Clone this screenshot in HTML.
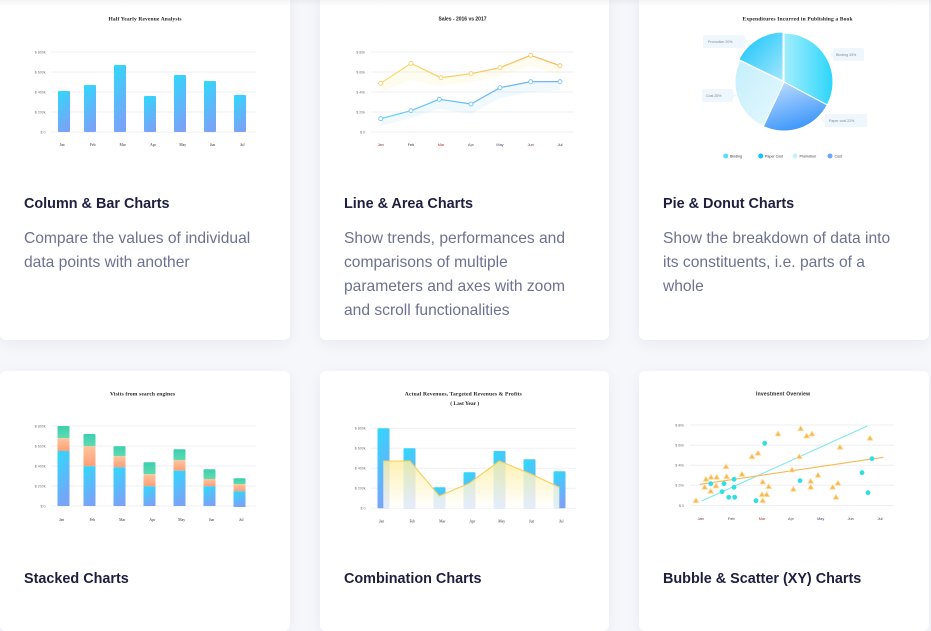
<!DOCTYPE html>
<html><head><meta charset="utf-8">
<style>
html,body{margin:0;padding:0;}
body{width:931px;height:603px;overflow:hidden;background:#f6f7fb;position:relative;font-family:"Liberation Sans",sans-serif;}
.card{position:absolute;background:#fff;border-radius:6px;box-shadow:0 4px 14px rgba(30,40,90,0.06);}
.t{position:absolute;font-weight:bold;font-size:14.4px;line-height:20px;color:#1d1f3e;white-space:nowrap;}
.d{position:absolute;font-size:15.6px;line-height:24px;color:#6c7290;white-space:nowrap;}
svg.main{position:absolute;left:0;top:0;}
.topsh{position:absolute;left:0;top:0;width:931px;height:6px;background:linear-gradient(rgba(0,0,0,0.045),rgba(0,0,0,0));}
</style></head><body>
<div class="card" style="left:0;top:-10px;width:290px;height:350px"></div>
<div class="card" style="left:320px;top:-10px;width:289px;height:350px"></div>
<div class="card" style="left:639px;top:-10px;width:290px;height:350px"></div>
<div class="card" style="left:0;top:371px;width:290px;height:260px"></div>
<div class="card" style="left:320px;top:371px;width:289px;height:260px"></div>
<div class="card" style="left:639px;top:371px;width:290px;height:260px"></div>
<div class="topsh"></div>

<div class="t" style="left:24px;top:194px">Column &amp; Bar Charts</div>
<div class="d" style="left:24px;top:227px">Compare the values of individual<br>data points with another</div>

<div class="t" style="left:344px;top:194px">Line &amp; Area Charts</div>
<div class="d" style="left:344px;top:227px">Show trends, performances and<br>comparisons of multiple<br>parameters and axes with zoom<br>and scroll functionalities</div>

<div class="t" style="left:663px;top:194px">Pie &amp; Donut Charts</div>
<div class="d" style="left:663px;top:227px">Show the breakdown of data into<br>its constituents, i.e. parts of a<br>whole</div>

<div class="t" style="left:24px;top:569px">Stacked Charts</div>
<div class="t" style="left:344px;top:569px">Combination Charts</div>
<div class="t" style="left:663px;top:569px">Bubble &amp; Scatter (XY) Charts</div>

<svg class="main" width="931" height="603" viewBox="0 0 931 603" xmlns="http://www.w3.org/2000/svg">
<defs>
<linearGradient id="gBar" x1="0" y1="0" x2="0.3" y2="1"><stop offset="0" stop-color="#2fd9fb"/><stop offset="1" stop-color="#78a4f8"/></linearGradient>
<linearGradient id="gGreen" x1="0" y1="0" x2="0" y2="1"><stop offset="0" stop-color="#3acfae"/><stop offset="1" stop-color="#62dab0"/></linearGradient>
<linearGradient id="gOrange" x1="0" y1="0" x2="0" y2="1"><stop offset="0" stop-color="#ffc49c"/><stop offset="1" stop-color="#fc9f78"/></linearGradient>
<linearGradient id="gYellowArea" x1="0" y1="0" x2="0" y2="1"><stop offset="0" stop-color="#fdeea4" stop-opacity="0.85"/><stop offset="1" stop-color="#ffffff" stop-opacity="0.8"/></linearGradient>
<linearGradient id="gYL" x1="0" y1="0" x2="1" y2="0"><stop offset="0" stop-color="#f8dd6a"/><stop offset="1" stop-color="#f8b554"/></linearGradient>
<linearGradient id="gBL" x1="0" y1="0" x2="1" y2="0"><stop offset="0" stop-color="#62d2fb"/><stop offset="1" stop-color="#69a6f6"/></linearGradient>
<linearGradient id="pBind" x1="0" y1="0" x2="1" y2="0"><stop offset="0" stop-color="#a2eefc"/><stop offset="1" stop-color="#2cd5fb"/></linearGradient>
<linearGradient id="pPaper" x1="0.2" y1="0" x2="0.6" y2="1"><stop offset="0" stop-color="#bcdcfe"/><stop offset="1" stop-color="#3693fa"/></linearGradient>
<linearGradient id="pCover" x1="0" y1="0" x2="1" y2="1"><stop offset="0" stop-color="#c4effc"/><stop offset="1" stop-color="#e6f8fe"/></linearGradient>
<linearGradient id="pPromo" x1="0" y1="0" x2="1" y2="1"><stop offset="0" stop-color="#0fc2fb"/><stop offset="1" stop-color="#a4e7fc"/></linearGradient>
</defs>

<!-- ===== Chart 1 ===== -->
<text x="145" y="20.5" text-anchor="middle" font-family="Liberation Serif" font-weight="bold" font-size="5.5" textLength="73" fill="#222">Half Yearly Revenue Analysis</text>
<g stroke="#efeff3" stroke-width="1">
<line x1="51" x2="256" y1="52" y2="52"/><line x1="51" x2="256" y1="72" y2="72"/><line x1="51" x2="256" y1="92" y2="92"/><line x1="51" x2="256" y1="112" y2="112"/><line x1="51" x2="256" y1="132" y2="132"/>
</g>
<g font-family="Liberation Sans" font-size="3.6" fill="#777" text-anchor="end">
<text x="45.5" y="53.3">$ 800k</text><text x="45.5" y="73.3">$ 600k</text><text x="45.5" y="93.3">$ 400k</text><text x="45.5" y="113.3">$ 200k</text><text x="45.5" y="133.3">$ 0</text>
</g>
<g fill="url(#gBar)">
<rect x="58" y="91" width="12" height="41" rx="1"/>
<rect x="84" y="85" width="12" height="47" rx="1"/>
<rect x="114" y="65" width="12" height="67" rx="1"/>
<rect x="144" y="96" width="12" height="36" rx="1"/>
<rect x="174" y="75" width="12" height="57" rx="1"/>
<rect x="204" y="81" width="12" height="51" rx="1"/>
<rect x="234" y="95" width="12" height="37" rx="1"/>
</g>
<g font-family="Liberation Serif" font-size="3.8" fill="#333" text-anchor="middle">
<text x="62" y="146">Jan</text><text x="92.7" y="146">Feb</text><text x="122.7" y="146">Mar</text><text x="153" y="146">Apr</text><text x="182.7" y="146">May</text><text x="212.7" y="146">Jun</text><text x="242.3" y="146">Jul</text>
</g>

<!-- ===== Chart 2 ===== -->
<text x="462.5" y="20.5" text-anchor="middle" font-family="Liberation Sans" font-weight="bold" font-size="5" textLength="48" fill="#222">Sales - 2016 vs 2017</text>
<g stroke="#efeff3" stroke-width="1">
<line x1="371" x2="574" y1="52" y2="52"/><line x1="371" x2="574" y1="72" y2="72"/><line x1="371" x2="574" y1="92" y2="92"/><line x1="371" x2="574" y1="112" y2="112"/><line x1="371" x2="574" y1="132" y2="132"/>
</g>
<g font-family="Liberation Sans" font-size="3.6" fill="#777" text-anchor="end">
<text x="365" y="53.3">$ 80k</text><text x="365" y="73.3">$ 60k</text><text x="365" y="93.3">$ 40k</text><text x="365" y="113.3">$ 20k</text><text x="365" y="133.3">$ 0</text>
</g>
<polygon points="380.7,83.3 411,63.3 441,77.7 471,73.7 500,67.7 530.7,55.3 560,65.7 560,75 530.7,66 500,76 471,82 441,86 411,80 380.7,92" fill="#fbe79a" opacity="0.16"/>
<polygon points="380.7,118.7 411,110.7 439.3,99.3 471,104 500,87.7 530.7,81.7 560,81.7 560,90 530.7,92 500,98 471,114 439.3,109 411,118 380.7,126" fill="#9fdcfb" opacity="0.16"/>
<polyline points="380.7,83.3 411,63.3 441,77.7 471,73.7 500,67.7 530.7,55.3 560,65.7" fill="none" stroke="url(#gYL)" stroke-width="1.2"/>
<polyline points="380.7,118.7 411,110.7 439.3,99.3 471,104 500,87.7 530.7,81.7 560,81.7" fill="none" stroke="url(#gBL)" stroke-width="1.2"/>
<g fill="#fff" stroke="#f6c85c" stroke-width="0.8">
<circle cx="380.7" cy="83.3" r="2"/><circle cx="411" cy="63.3" r="2"/><circle cx="441" cy="77.7" r="2"/><circle cx="471" cy="73.7" r="2"/><circle cx="500" cy="67.7" r="2"/><circle cx="530.7" cy="55.3" r="2"/><circle cx="560" cy="65.7" r="2"/>
</g>
<g fill="#fff" stroke="#62bdf9" stroke-width="0.8">
<circle cx="380.7" cy="118.7" r="2"/><circle cx="411" cy="110.7" r="2"/><circle cx="439.3" cy="99.3" r="2"/><circle cx="471" cy="104" r="2"/><circle cx="500" cy="87.7" r="2"/><circle cx="530.7" cy="81.7" r="2"/><circle cx="560" cy="81.7" r="2"/>
</g>
<g font-family="Liberation Sans" font-size="3.8" text-anchor="middle">
<text x="380.7" y="146" fill="#7a1f1f">Jan</text><text x="411" y="146" fill="#333">Feb</text><text x="441" y="146" fill="#a33">Mar</text><text x="471" y="146" fill="#555">Apr</text><text x="500" y="146" fill="#446">May</text><text x="530.7" y="146" fill="#533">Jun</text><text x="560" y="146" fill="#333">Jul</text>
</g>

<!-- ===== Chart 3 (pie) ===== -->
<text x="797.5" y="20.5" text-anchor="middle" font-family="Liberation Serif" font-weight="bold" font-size="5.5" textLength="110" fill="#222">Expenditures Incurred in Publishing a Book</text>
<g stroke="#fff" stroke-width="1">
<path d="M784,82 L784,33 A49,49 0 0 1 827.26,105 Z" fill="url(#pBind)"/>
<path d="M784,82 L827.26,105 A49,49 0 0 1 763.29,126.41 Z" fill="url(#pPaper)"/>
<path d="M784,82 L763.29,126.41 A49,49 0 0 1 739.96,60.52 Z" fill="url(#pCover)"/>
<path d="M783,81 L738.96,59.52 A49,49 0 0 1 783,32 Z" fill="url(#pPromo)"/>
</g>
<g fill="#eef6fe">
<rect x="703" y="35" width="42" height="13" rx="2"/><polygon points="745,39 748,41.5 745,44"/>
<rect x="833" y="48" width="31" height="13" rx="2"/><polygon points="833,52 830,54.5 833,57"/>
<rect x="702" y="89" width="31" height="13" rx="2"/><polygon points="733,93 736,95.5 733,98"/>
<rect x="825" y="114" width="42" height="13" rx="2"/><polygon points="825,118 822,120.5 825,123"/>
</g>
<g font-family="Liberation Sans" font-size="3.6" fill="#888">
<text x="708" y="43">Promotion 20%</text>
<text x="836" y="56">Binding 33%</text>
<text x="706" y="97">Cost 25%</text>
<text x="829" y="122">Paper cost 22%</text>
</g>
<circle cx="725.7" cy="156" r="2.5" fill="#5cdcfb"/>
<circle cx="760.7" cy="156" r="2.5" fill="#12c3fb"/>
<circle cx="795" cy="156" r="2.5" fill="#c9f0fd"/>
<circle cx="830" cy="156" r="2.5" fill="#6aa8fa"/>
<g font-family="Liberation Sans" font-size="3.6" fill="#333">
<text x="730" y="157.3">Binding</text><text x="765" y="157.3">Paper Cost</text><text x="799.5" y="157.3">Promotion</text><text x="834.5" y="157.3">Cost</text>
</g>

<!-- ===== Chart 4 (stacked) ===== -->
<text x="142.5" y="395.5" text-anchor="middle" font-family="Liberation Serif" font-weight="bold" font-size="5.5" textLength="65" fill="#222">Visits from search engines</text>
<g stroke="#efeff3" stroke-width="1">
<line x1="51" x2="256" y1="426" y2="426"/><line x1="51" x2="256" y1="446" y2="446"/><line x1="51" x2="256" y1="466" y2="466"/><line x1="51" x2="256" y1="486" y2="486"/><line x1="51" x2="256" y1="506" y2="506"/>
</g>
<g font-family="Liberation Sans" font-size="3.6" fill="#777" text-anchor="end">
<text x="45.5" y="427.3">$ 800k</text><text x="45.5" y="447.3">$ 600k</text><text x="45.5" y="467.3">$ 400k</text><text x="45.5" y="487.3">$ 200k</text><text x="45.5" y="507.3">$ 0</text>
</g>
<g>
<rect x="57.5" y="426" width="12" height="12.3" rx="1" fill="url(#gGreen)"/><rect x="57.5" y="438.3" width="12" height="12.7" fill="url(#gOrange)"/><rect x="57.5" y="451" width="12" height="55" fill="url(#gBar)"/>
<rect x="83.5" y="434" width="12" height="12.3" rx="1" fill="url(#gGreen)"/><rect x="83.5" y="446.3" width="12" height="20" fill="url(#gOrange)"/><rect x="83.5" y="466.3" width="12" height="39.7" fill="url(#gBar)"/>
<rect x="113.5" y="446.3" width="12" height="10" rx="1" fill="url(#gGreen)"/><rect x="113.5" y="456.3" width="12" height="11" fill="url(#gOrange)"/><rect x="113.5" y="467.3" width="12" height="38.7" fill="url(#gBar)"/>
<rect x="143.5" y="462.3" width="12" height="12" rx="1" fill="url(#gGreen)"/><rect x="143.5" y="474.3" width="12" height="12" fill="url(#gOrange)"/><rect x="143.5" y="486.3" width="12" height="19.7" fill="url(#gBar)"/>
<rect x="173.5" y="449.3" width="12" height="11" rx="1" fill="url(#gGreen)"/><rect x="173.5" y="460.3" width="12" height="10.4" fill="url(#gOrange)"/><rect x="173.5" y="470.7" width="12" height="35.3" fill="url(#gBar)"/>
<rect x="203.5" y="469.3" width="12" height="9.7" rx="1" fill="url(#gGreen)"/><rect x="203.5" y="479" width="12" height="7.3" fill="url(#gOrange)"/><rect x="203.5" y="486.3" width="12" height="19.7" fill="url(#gBar)"/>
<rect x="233.5" y="478.3" width="12" height="6" rx="1" fill="url(#gGreen)"/><rect x="233.5" y="484.3" width="12" height="7" fill="url(#gOrange)"/><rect x="233.5" y="491.3" width="12" height="15.7" fill="url(#gBar)"/>
</g>
<g font-family="Liberation Serif" font-size="3.8" fill="#333" text-anchor="middle">
<text x="61.7" y="521">Jan</text><text x="92.3" y="521">Feb</text><text x="122.3" y="521">Mar</text><text x="152.3" y="521">Apr</text><text x="181.7" y="521">May</text><text x="211.7" y="521">Jun</text><text x="241.3" y="521">Jul</text>
</g>

<!-- ===== Chart 5 (combination) ===== -->
<text x="463.3" y="395.5" text-anchor="middle" font-family="Liberation Serif" font-weight="bold" font-size="5.5" textLength="117" fill="#222">Actual Revenues, Targeted Revenues &amp; Profits</text>
<text x="464.7" y="404.8" text-anchor="middle" font-family="Liberation Serif" font-weight="bold" font-size="5.5" textLength="29" fill="#222">( Last Year )</text>
<g stroke="#efeff3" stroke-width="1">
<line x1="371" x2="576" y1="428.3" y2="428.3"/><line x1="371" x2="576" y1="448.3" y2="448.3"/><line x1="371" x2="576" y1="468.3" y2="468.3"/><line x1="371" x2="576" y1="488.3" y2="488.3"/><line x1="371" x2="576" y1="508.3" y2="508.3"/>
</g>
<g font-family="Liberation Sans" font-size="3.6" fill="#777" text-anchor="end">
<text x="365.5" y="429.6">$ 800k</text><text x="365.5" y="449.6">$ 600k</text><text x="365.5" y="469.6">$ 400k</text><text x="365.5" y="489.6">$ 200k</text><text x="365.5" y="509.6">$ 0</text>
</g>
<g fill="url(#gBar)">
<rect x="377.5" y="428.3" width="12" height="80" rx="1"/>
<rect x="403.5" y="448.3" width="12" height="60" rx="1"/>
<rect x="433.5" y="487.3" width="12" height="21" rx="1"/>
<rect x="463.5" y="472.3" width="12" height="36" rx="1"/>
<rect x="493.5" y="451" width="12" height="57.3" rx="1"/>
<rect x="523.5" y="459.3" width="12" height="49" rx="1"/>
<rect x="553.5" y="471.3" width="12" height="37" rx="1"/>
</g>
<path d="M383.3,508.3 L383.3,461 L410,461 L439.3,496 L469.3,483.3 L499.3,461 L529.3,473.3 L559.3,487.3 L559.3,508.3 Z" fill="url(#gYellowArea)"/>
<polyline points="383.3,461 410,461 439.3,496 469.3,483.3 499.3,461 529.3,473.3 559.3,487.3" fill="none" stroke="#f6cf5a" stroke-width="1.1"/>
<g font-family="Liberation Serif" font-size="3.8" fill="#333" text-anchor="middle">
<text x="381.7" y="522.5">Jan</text><text x="412.3" y="522.5">Feb</text><text x="442.3" y="522.5">Mar</text><text x="472.3" y="522.5">Apr</text><text x="501.7" y="522.5">May</text><text x="531.7" y="522.5">Jun</text><text x="561.3" y="522.5">Jul</text>
</g>

<!-- ===== Chart 6 (scatter) ===== -->
<text x="783" y="395.5" text-anchor="middle" font-family="Liberation Sans" font-weight="bold" font-size="5" textLength="54" fill="#222">Investment Overview</text>
<g stroke="#efeff3" stroke-width="1">
<line x1="690" x2="894" y1="425" y2="425"/><line x1="690" x2="894" y1="445.3" y2="445.3"/><line x1="690" x2="894" y1="465.3" y2="465.3"/><line x1="690" x2="894" y1="485.3" y2="485.3"/><line x1="690" x2="894" y1="505.5" y2="505.5"/>
</g>
<g font-family="Liberation Sans" font-size="3.6" fill="#777" text-anchor="end">
<text x="684" y="426.3">$ 80k</text><text x="684" y="446.6">$ 60k</text><text x="684" y="466.6">$ 40k</text><text x="684" y="486.6">$ 20k</text><text x="684" y="506.8">$ 0</text>
</g>
<line x1="701.7" y1="501" x2="867.3" y2="426" stroke="#7ee8ea" stroke-width="1.1"/>
<line x1="700" y1="484.3" x2="883.3" y2="457.3" stroke="#f7b955" stroke-width="1.1"/>
<g fill="#f9b64d" stroke="#fde1ad" stroke-width="0.8" stroke-linejoin="round">
<path d="M696,497.7l-3,5h6z"/><path d="M704.7,484.3l-3,5h6z"/><path d="M706,476.3l-3,5h6z"/><path d="M710.7,488.3l-3,5h6z"/><path d="M711,474.3l-3,5h6z"/><path d="M716,483l-3,5h6z"/><path d="M716.7,474.3l-3,5h6z"/><path d="M726,463.7l-3,5h6z"/><path d="M726.7,473.7l-3,5h6z"/><path d="M742,471.3l-3,5h6z"/><path d="M752,453.7l-3,5h6z"/><path d="M758,450.3l-3,5h6z"/><path d="M762.7,479l-3,5h6z"/><path d="M762,491.7l-3,5h6z"/><path d="M762.7,497.7l-3,5h6z"/><path d="M766.7,491.7l-3,5h6z"/><path d="M768.7,483.7l-3,5h6z"/><path d="M778,431l-3,5h6z"/><path d="M792,467l-3,5h6z"/><path d="M793.3,486.3l-3,5h6z"/><path d="M799.3,453.7l-3,5h6z"/><path d="M800.7,425.7l-3,5h6z"/><path d="M806.7,433l-3,5h6z"/><path d="M812,431l-3,5h6z"/><path d="M810.7,478.3l-3,5h6z"/><path d="M810.7,484.3l-3,5h6z"/><path d="M818,472.3l-3,5h6z"/><path d="M832.7,484.3l-3,5h6z"/><path d="M836,494.3l-3,5h6z"/><path d="M838,480.3l-3,5h6z"/><path d="M840,444.3l-3,5h6z"/><path d="M870,435.3l-3,5h6z"/>
</g>
<g fill="#2fdfe3">
<circle cx="710.7" cy="483.7" r="2.4"/><circle cx="724" cy="483.7" r="2.4"/><circle cx="722" cy="491.7" r="2.4"/><circle cx="728.7" cy="497.3" r="2.4"/><circle cx="734" cy="479.3" r="2.4"/><circle cx="734" cy="487.3" r="2.4"/><circle cx="734.7" cy="497.3" r="2.4"/><circle cx="756" cy="500.7" r="2.4"/><circle cx="764.7" cy="443.3" r="2.4"/><circle cx="800" cy="480.7" r="2.4"/><circle cx="862" cy="472.7" r="2.4"/><circle cx="868" cy="492.7" r="2.4"/><circle cx="872" cy="458.7" r="2.4"/>
</g>
<g font-family="Liberation Sans" font-size="3.8" text-anchor="middle">
<text x="700.7" y="520" fill="#7a1f1f">Jan</text><text x="731.3" y="520" fill="#333">Feb</text><text x="762" y="520" fill="#a33">Mar</text><text x="791" y="520" fill="#555">Apr</text><text x="820.7" y="520" fill="#446">May</text><text x="850.7" y="520" fill="#533">Jun</text><text x="880" y="520" fill="#333">Jul</text>
</g>
</svg>
</body></html>
